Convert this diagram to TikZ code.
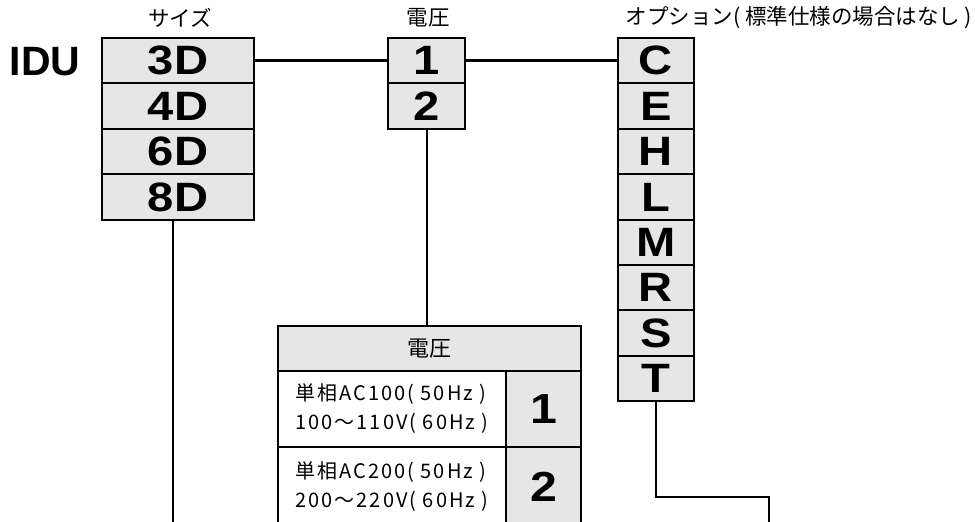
\documentclass[tikz,border=0pt]{standalone}
\usepackage{fontspec}
\setmainfont{Liberation Sans}
\newfontfamily\boxfont[FakeStretch=1.15]{Liberation Sans}
\newfontfamily\jpfont{Noto Sans CJK JP}
\newfontfamily\jpwide[LetterSpace=10]{Noto Sans CJK JP}
\definecolor{cellgray}{HTML}{E6E6E6}

\begin{document}
\begin{tikzpicture}
[x=1pt,y=-1pt,
  cellbox/.style={shape=rectangle,draw,line width=2pt,fill=cellgray,inner sep=0pt,%
    minimum height=45.4pt,font=\boxfont\fontsize{41}{41}\selectfont\bfseries},%
  tablecell/.style={shape=rectangle,draw,line width=1.5pt,inner sep=0pt,align=left,%
    font=\jpwide\fontsize{20}{29}\selectfont},%
  numcell/.style={tablecell,fill=cellgray,minimum width=75pt,%
    font=\boxfont\fontsize{42}{42}\selectfont\bfseries},%
  headlabel/.style={font=\jpfont\fontsize{21.5}{22}\selectfont},%
  mainline/.style={-,line width=3.5pt},%
  leadline/.style={-,line width=2pt}]
\useasboundingbox (0,0) rectangle (975,522);
\clip (0,0) rectangle (975,522);
%% headings
\node (idu) at (45,62) [font=\fontsize{41}{41}\selectfont\bfseries] {IDU};
\node (sizelabel) at (180,18) [headlabel] {サイズ};
\node (voltlabel) at (428,18) [headlabel] {電圧};
\node (optlabel) at (622,18) [headlabel,anchor=west] {オプション( 標準仕様の場合はなし )};
%% size column
\foreach \nodename/\txt/\y in {s3/3D/60.7, s4/4D/106.1, s6/6D/151.5, s8/8D/196.9}
{
  \node (\nodename) at (178,\y) [cellbox,minimum width=152pt] {\txt};
}
%% voltage column
\foreach \nodename/\txt/\y in {v1/1/60.7, v2/2/106.1}
{
  \node (\nodename) at (426.5,\y) [cellbox,minimum width=77pt] {\txt};
}
%% option column
\foreach \nodename/\txt/\y in {oC/C/60.7, oE/E/106.1, oH/H/151.5, oL/L/196.9,
  oM/M/242.3, oR/R/287.7, oS/S/333.1, oT/T/378.5}
{
  \node (\nodename) at (656,\y) [cellbox,minimum width=76pt] {\txt};
}
%% voltage table
\node (tabhead) at (429.5,348.5) [tablecell,fill=cellgray,minimum width=303pt,%
  minimum height=45pt,font=\jpfont\fontsize{22}{22}\selectfont] {電圧};
\node (t1text) at (392,409) [tablecell,fill=white,minimum width=228pt,minimum height=76pt]
  {単相AC100( 50Hz )\\100～110V( 60Hz )};
\node (t1num) at (543.5,409) [numcell,minimum height=76pt] {1};
\node (t2text) at (392,487) [tablecell,fill=white,minimum width=228pt,minimum height=80pt]
  {単相AC200( 50Hz )\\200～220V( 60Hz )};
\node (t2num) at (543.5,487) [numcell,minimum height=80pt] {2};
%% free ends of the leads
\coordinate (sizeend) at (173,530);
\coordinate (optbend) at (769,497);
\coordinate (optend) at (769,530);
%% connectors
\path
\foreach \startnode/\endnode in {s3/v1, v1/oC}
{
  (\startnode) edge[mainline] (\endnode)
};
\draw[leadline] (s8.south -| sizeend) -- (sizeend);
\draw[leadline] (v2.south) -- (v2.south |- tabhead.north);
\draw[leadline] (oT.south) |- (optbend) -- (optend);
\end{tikzpicture}
\end{document}
